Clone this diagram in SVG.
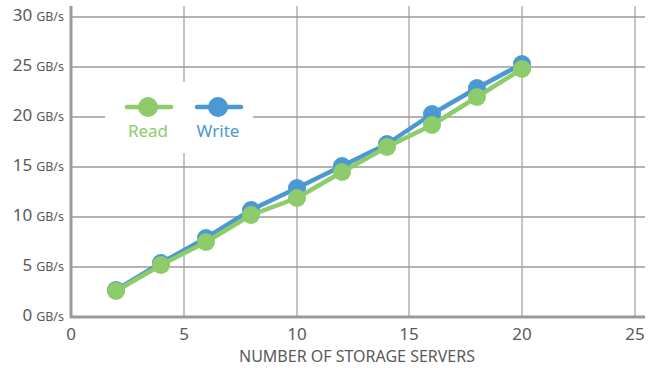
<svg xmlns="http://www.w3.org/2000/svg" width="660" height="368" viewBox="0 0 660 368">
<style>
.bg{fill:#ffffff}
.hg{stroke:#9a9a9a;stroke-width:1.5;fill:none}
.vg{stroke:#c4c4c4;stroke-width:2;fill:none}
.ax{stroke:#9a9a9a;stroke-width:3;fill:none}
.yl{font-family:"Noto Sans","Liberation Sans",sans-serif;fill:#5a5a5a;text-anchor:end}
.num{font-size:17px}
.unit{font-size:12.5px}
.xl{font-family:"Noto Sans","Liberation Sans",sans-serif;fill:#5a5a5a;font-size:17px;text-anchor:middle}
.title{font-family:"Noto Sans","Liberation Sans",sans-serif;fill:#5a5a5a;font-size:16px;text-anchor:middle}
.rl{stroke:#8ecb6a;stroke-width:4.5;fill:none;stroke-linejoin:round;stroke-linecap:round}
.wl{stroke:#4a98d4;stroke-width:4.5;fill:none;stroke-linejoin:round;stroke-linecap:round}
.rc{fill:#8ecb6a}
.wc{fill:#4a98d4}
.lg{font-family:"Noto Sans","Liberation Sans",sans-serif;font-size:17px;text-anchor:middle}
</style>
<rect class="bg" width="660" height="368"/>
<g id="grid">
<line class="vg" x1="184" y1="6" x2="184" y2="317"/>
<line class="vg" x1="297" y1="6" x2="297" y2="317"/>
<line class="vg" x1="409" y1="6" x2="409" y2="317"/>
<line class="vg" x1="522" y1="6" x2="522" y2="317"/>
<line class="vg" x1="635" y1="6" x2="635" y2="317"/>
<line class="hg" x1="71" y1="17" x2="645" y2="17"/>
<line class="hg" x1="71" y1="67" x2="645" y2="67"/>
<line class="hg" x1="71" y1="117" x2="645" y2="117"/>
<line class="hg" x1="71" y1="167" x2="645" y2="167"/>
<line class="hg" x1="71" y1="217" x2="645" y2="217"/>
<line class="hg" x1="71" y1="267" x2="645" y2="267"/>
</g>
<g id="axes">
<line class="ax" x1="71" y1="6" x2="71" y2="318"/>
<line class="ax" x1="70" y1="317" x2="645" y2="317"/>
</g>
<g id="y-labels">
<text class="yl" x="64" y="21"><tspan class="num">30</tspan><tspan class="unit" dx="4">GB/s</tspan></text>
<text class="yl" x="64" y="71"><tspan class="num">25</tspan><tspan class="unit" dx="4">GB/s</tspan></text>
<text class="yl" x="64" y="121"><tspan class="num">20</tspan><tspan class="unit" dx="4">GB/s</tspan></text>
<text class="yl" x="64" y="171"><tspan class="num">15</tspan><tspan class="unit" dx="4">GB/s</tspan></text>
<text class="yl" x="64" y="221"><tspan class="num">10</tspan><tspan class="unit" dx="4">GB/s</tspan></text>
<text class="yl" x="64" y="271"><tspan class="num">5</tspan><tspan class="unit" dx="4">GB/s</tspan></text>
<text class="yl" x="64" y="321"><tspan class="num">0</tspan><tspan class="unit" dx="4">GB/s</tspan></text>
</g>
<g id="x-labels">
<text class="xl" x="71" y="340">0</text>
<text class="xl" x="184" y="340">5</text>
<text class="xl" x="297" y="340">10</text>
<text class="xl" x="409" y="340">15</text>
<text class="xl" x="522" y="340">20</text>
<text class="xl" x="635" y="340">25</text>
<text class="title" x="357" y="362">NUMBER OF STORAGE SERVERS</text>
</g>
<g id="series-write">
<polyline class="wl" points="116,290 161,263 206,238 251,210 297,188 342,166 387,144 432,114 477,88 522,64"/>
<circle class="wc" cx="116" cy="290" r="9"/>
<circle class="wc" cx="161" cy="263" r="9"/>
<circle class="wc" cx="206" cy="238" r="9"/>
<circle class="wc" cx="251" cy="210" r="9"/>
<circle class="wc" cx="297" cy="188" r="9"/>
<circle class="wc" cx="342" cy="166" r="9"/>
<circle class="wc" cx="387" cy="144" r="9"/>
<circle class="wc" cx="432" cy="114" r="9"/>
<circle class="wc" cx="477" cy="88" r="9"/>
<circle class="wc" cx="522" cy="64" r="9"/>
</g>
<g id="series-read">
<polyline class="rl" points="116,291 161,265 206,242 251,215 297,198 342,172 387,147 432,125 477,97 522,69"/>
<circle class="rc" cx="116" cy="291" r="9"/>
<circle class="rc" cx="161" cy="265" r="9"/>
<circle class="rc" cx="206" cy="242" r="9"/>
<circle class="rc" cx="251" cy="215" r="9"/>
<circle class="rc" cx="297" cy="198" r="9"/>
<circle class="rc" cx="342" cy="172" r="9"/>
<circle class="rc" cx="387" cy="147" r="9"/>
<circle class="rc" cx="432" cy="125" r="9"/>
<circle class="rc" cx="477" cy="97" r="9"/>
<circle class="rc" cx="522" cy="69" r="9"/>
</g>
<g id="legend">
<rect x="105" y="82" width="148" height="71" fill="#ffffff"/>
<line class="rl" x1="127" y1="107" x2="171" y2="107" stroke-width="4"/>
<circle class="rc" cx="148" cy="107" r="10"/>
<text class="lg" x="148" y="137" fill="#8ecb6a">Read</text>
<line class="wl" x1="197" y1="107" x2="241" y2="107" stroke-width="4"/>
<circle class="wc" cx="218" cy="107" r="10"/>
<text class="lg" x="218" y="137" fill="#4a98d4">Write</text>
</g>
</svg>
